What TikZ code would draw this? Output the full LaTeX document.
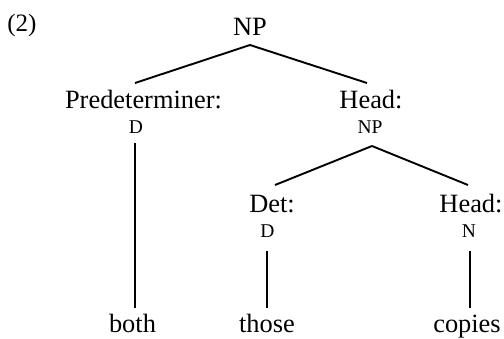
\documentclass[tikz,border=0pt]{standalone}
\usepackage{fontspec}
\setmainfont{Liberation Serif}
\begin{document}
\begin{tikzpicture}[x=1pt,y=-1pt,
  big/.style={inner sep=0pt,anchor=base,font=\fontsize{26.4pt}{30pt}\selectfont},
  small/.style={inner sep=0pt,anchor=base,font=\fontsize{19.5pt}{20pt}\selectfont},
  branch/.style={line width=1.9pt}]
\useasboundingbox (0,0) rectangle (504,338);
\node[big,font=\fontsize{25pt}{30pt}\selectfont] (ex) at (22,31) {(2)};
\node[big] (root) at (250,35) {NP};
\node[big] (pre) at (143.5,108) {Predeterminer:};
\node[small] (preD) at (136,133) {D};
\node[big] (head) at (371,108) {Head:};
\node[small] (headNP) at (370,133) {NP};
\node[big] (det) at (272,212) {Det:};
\node[small] (detD) at (267.5,237) {D};
\node[big] (head2) at (471,212) {Head:};
\node[small] (hN) at (469,237) {N};
\node[big] (both) at (132.5,332) {both};
\node[big] (those) at (267,332) {those};
\node[big] (copies) at (467,332) {copies};
\draw[branch] ([yshift=-10pt]root.base) -- ([xshift=-8.5pt,yshift=25pt]pre.base);
\draw[branch] ([yshift=-10pt]root.base) -- ([xshift=-4pt,yshift=25pt]head.base);
\draw[branch] ([xshift=-1pt,yshift=-10pt]preD.base) -- ([xshift=2.5pt,yshift=24pt]both.base);
\draw[branch] ([xshift=2pt,yshift=-13pt]headNP.base) -- ([xshift=3pt,yshift=27pt]det.base);
\draw[branch] ([xshift=2pt,yshift=-13pt]headNP.base) -- ([xshift=-3pt,yshift=27pt]head2.base);
\draw[branch] ([xshift=-0.5pt,yshift=-14pt]detD.base) -- ([yshift=24pt]those.base);
\draw[branch] ([xshift=1pt,yshift=-14pt]hN.base) -- ([xshift=3pt,yshift=24pt]copies.base);
\end{tikzpicture}
\end{document}
